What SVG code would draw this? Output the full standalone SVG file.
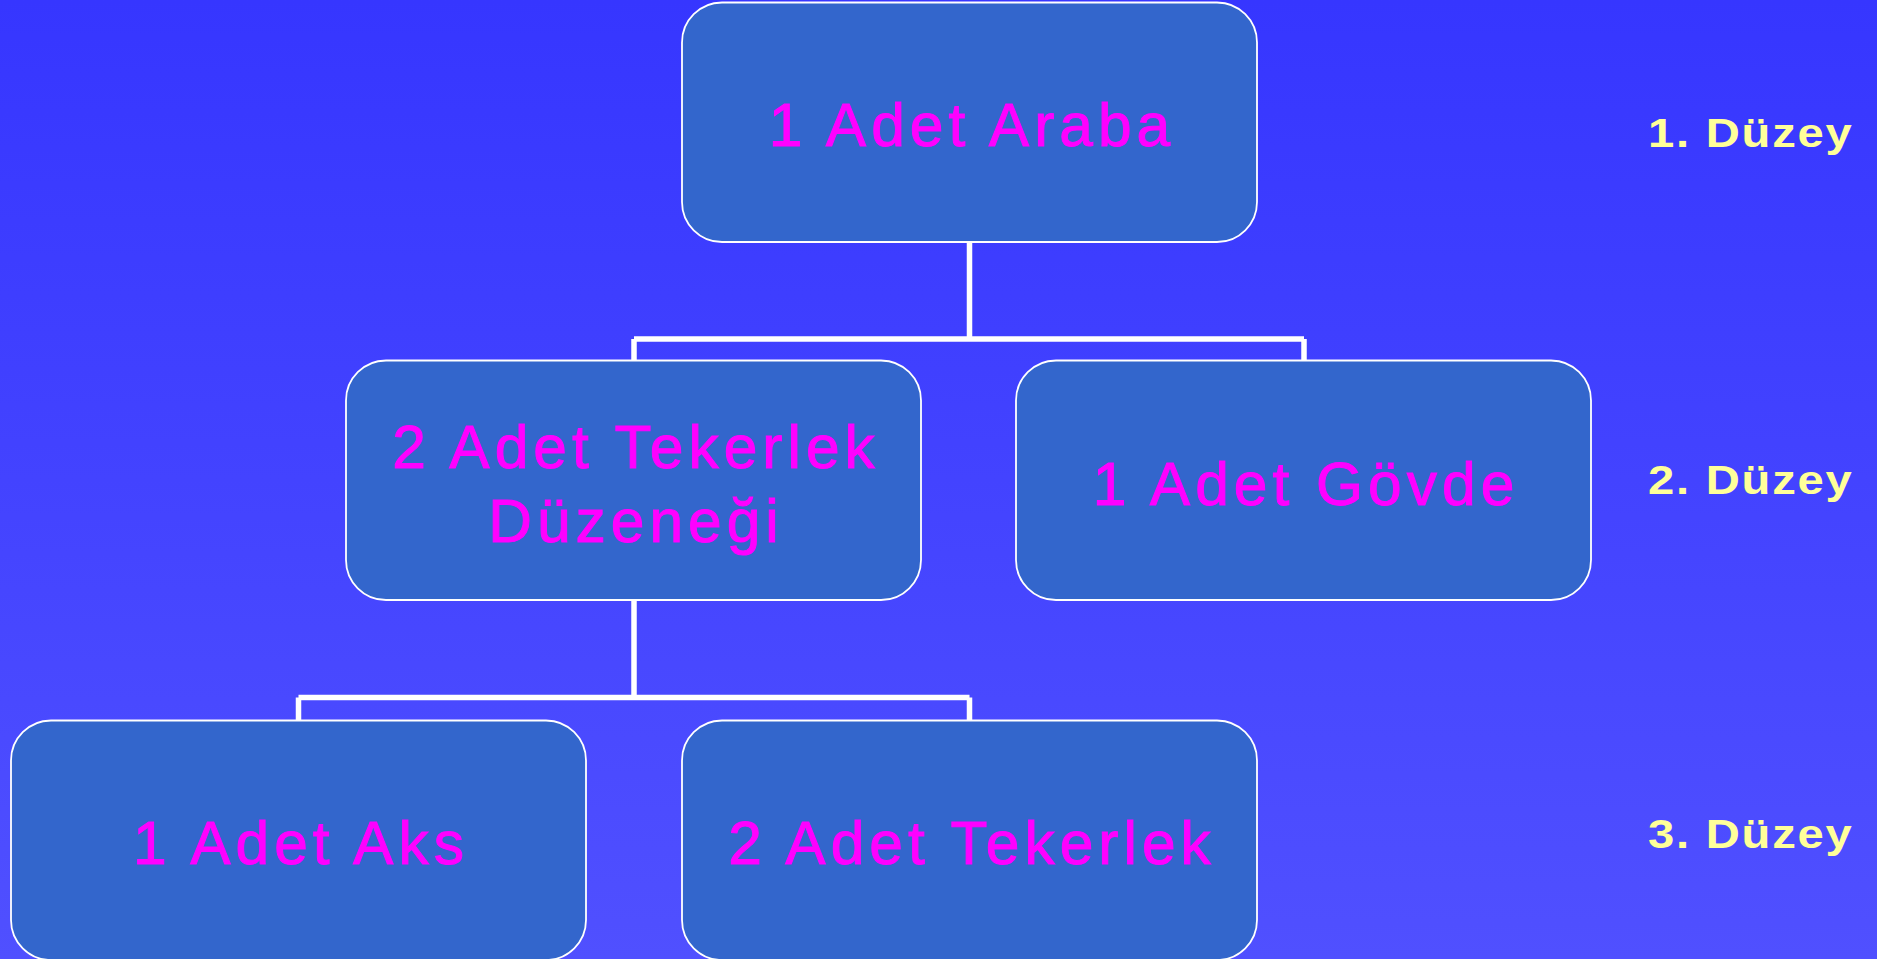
<svg xmlns="http://www.w3.org/2000/svg" width="1877" height="959" viewBox="0 0 1877 959">
<defs>
<linearGradient id="bg" x1="0" y1="0" x2="0" y2="1">
<stop offset="0" stop-color="#3636FF"/>
<stop offset="1" stop-color="#5050FF"/>
</linearGradient>
<style>
.box{fill:#3366CC;stroke:#FFFFFF;stroke-width:1.8}
.t{font-family:"Liberation Sans",Arial,sans-serif;font-size:60.5px;fill:#FF00FF;stroke:#FF00FF;stroke-width:1;text-anchor:middle;letter-spacing:5px}
.lvl{font-family:"Liberation Sans",Arial,sans-serif;font-size:40px;font-weight:bold;fill:#FFFF99;letter-spacing:1.5px}
.c{fill:none;stroke:#FFFFFF;stroke-width:5.5}
</style>
</defs>
<rect width="1877" height="959" fill="url(#bg)"/>
<g id="connectors">
<path class="c" d="M969.5 242 V339 M634 339 H1304 M634 339 V360 M1304 339 V360"/>
<path class="c" d="M634 600 V697.5 M298.5 697.5 H969.5 M298.5 697.5 V720 M969.5 697.5 V720"/>
</g>
<g id="n1">
<rect class="box" x="682" y="2.5" width="575" height="239.5" rx="40" ry="40"/>
<text class="t" x="972" y="146">1 Adet Araba</text>
</g>
<g id="n2">
<rect class="box" x="346" y="360.5" width="575" height="239.5" rx="40" ry="40"/>
<text class="t" x="636" y="468">2 Adet Tekerlek</text>
<text class="t" x="636" y="542">Düzeneği</text>
</g>
<g id="n3">
<rect class="box" x="1016" y="360.5" width="575" height="239.5" rx="40" ry="40"/>
<text class="t" x="1306" y="505">1 Adet Gövde</text>
</g>
<g id="n4">
<rect class="box" x="11" y="720.5" width="575" height="239.5" rx="40" ry="40"/>
<text class="t" x="301" y="864">1 Adet Aks</text>
</g>
<g id="n5">
<rect class="box" x="682" y="720.5" width="575" height="239.5" rx="40" ry="40"/>
<text class="t" x="972" y="864">2 Adet Tekerlek</text>
</g>
<g id="levels">
<text class="lvl" transform="translate(1648 147) scale(1.18 1)">1. Düzey</text>
<text class="lvl" transform="translate(1648 494) scale(1.18 1)">2. Düzey</text>
<text class="lvl" transform="translate(1648 848) scale(1.18 1)">3. Düzey</text>
</g>
</svg>
